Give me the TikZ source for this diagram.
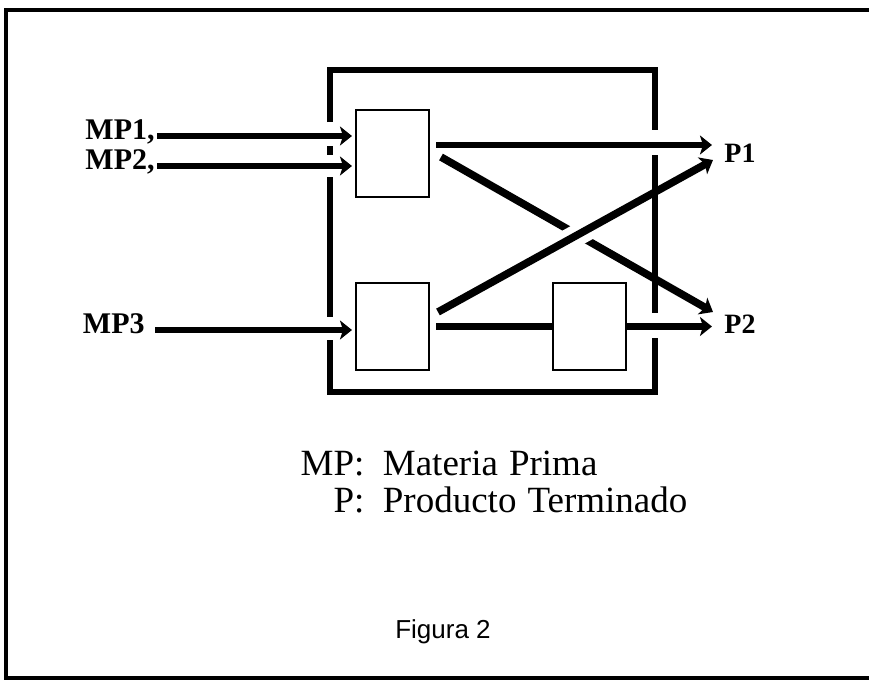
\documentclass[tikz,border=0pt]{standalone}
\usepackage{fontspec}
\setmainfont{Liberation Serif}
\newfontfamily\figfont{Liberation Sans}
\usetikzlibrary{arrows.meta, calc}

\begin{document}
\begin{tikzpicture}[
    x=0.5pt, y=-0.5pt,
    flow/.style={-{Stealth[length=6pt, width=9.5pt, inset=1.5pt]}, line width=3.2pt},
    cross/.style={flow, line width=3.8pt},
    link/.style={line width=3.2pt},
    wall/.style={line width=3pt},
    unit/.style={draw, line width=1pt, minimum width=36.5pt, minimum height=43.5pt, inner sep=0pt},
    inlbl/.style={font=\fontsize{15}{18}\selectfont\bfseries, inner sep=0pt},
    outlbl/.style={font=\fontsize{14}{16}\selectfont\bfseries, inner sep=0pt}
]

% Page size and outer frame
\useasboundingbox (0,0) rectangle (869,680);
\draw[line width=2pt] (869,10) -- (6,10) -- (6,680);
\draw[line width=2pt] (6,678) -- (869,678);

% Plant boundary, open where the flows pass
\draw[wall] (330,122) -- (330,70) -- (655,70) -- (655,130);
\draw[wall] (330,146) -- (330,155);
\draw[wall] (330,177) -- (330,317);
\draw[wall] (330,340) -- (330,392) -- (655,392) -- (655,338);
\draw[wall] (655,155) -- (655,313);

% Process units
\node[unit] (ua) at (392.5,153.5) {};
\node[unit] (ub) at (392.5,326.5) {};
\node[unit] (uc) at (589.5,326.5) {};

% Raw materials
\node[inlbl, anchor=base east] (mp1) at (155,139) {MP1,};
\node[inlbl, anchor=base east] (mp2) at (155,169) {MP2,};
\node[inlbl, anchor=base east] (mp3) at (145,333) {MP3};

\draw[flow, shorten >=1.5pt] ($(mp1.base east)+(2,-3)$) coordinate (m1) -- (m1 -| ua.west);
\draw[flow, shorten >=1.5pt] ($(mp2.base east)+(2,-3)$) coordinate (m2) -- (m2 -| ua.west);
\draw[flow, shorten >=1.5pt] ($(mp3.base east)+(10,-3)$) coordinate (m3) -- (m3 -| ub.west);

% Products
\coordinate (p1a) at (712,145);
\coordinate (p1b) at (713,160);
\coordinate (p2a) at (713,312);
\coordinate (p2b) at (712,326.5);
\node[outlbl, anchor=base west] (p1) at (724,162) {P1};
\node[outlbl, anchor=base west] (p2) at (724,333) {P2};

% Flows out of the units
\draw[flow] ($(ua.east)+(6,-8.5)$) -- (p1a);
\draw[cross] ($(ua.east)+(11,3.5)$) -- (p2a);
\coordinate (rise) at ($(ub.east)+(8,-14.5)$);
\draw[white, line width=11pt] ($(rise)!0.45!(p1b)$) -- ($(rise)!0.57!(p1b)$);
\draw[cross] (rise) -- (p1b);
\draw[link] ($(ub.east)+(6,0)$) -- (uc.west);
\draw[flow] (uc.east) -- (p2b);

% Legend
\node[font=\fontsize{18.5}{18}\selectfont] (key) at (494,487)
    {\begin{tabular}{@{}r@{\hspace{0.5em}}l@{}}MP: & Materia\hspace{0.3em}Prima\\ P: & Producto\hspace{0.3em}Terminado\end{tabular}};

\node[font=\figfont\fontsize{13}{15}\selectfont] (fig) at (443,632) {Figura 2};

\end{tikzpicture}
\end{document}
